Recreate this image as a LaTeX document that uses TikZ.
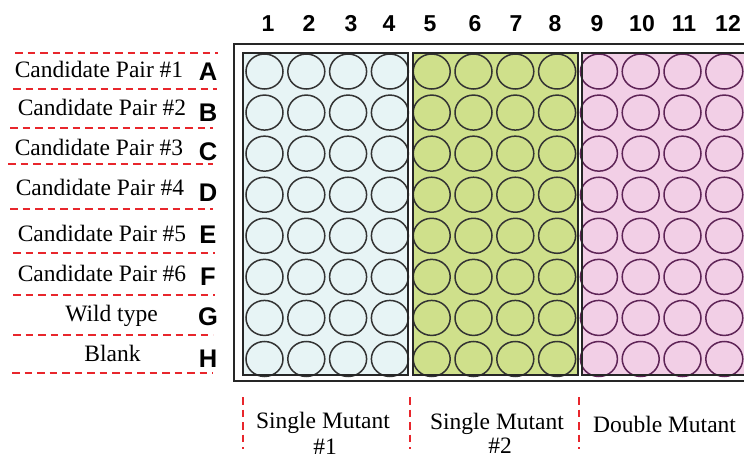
\documentclass[tikz,border=0pt]{standalone}
\usepackage{fontspec}
\setmainfont{Liberation Serif}
\newfontfamily\labelsans{Liberation Sans}
\definecolor{wellblue}{HTML}{E7F4F5}
\definecolor{wellgreen}{HTML}{CFE08B}
\definecolor{wellpink}{HTML}{F2CFE6}
\definecolor{pinkedge}{HTML}{5E2456}
\definecolor{guidered}{HTML}{E8262C}
\begin{document}
\begin{tikzpicture}[x=1pt,y=-1pt,
  serifText/.style={inner sep=0pt,anchor=base,font=\fontsize{23.5}{28}\selectfont},
  rowLetter/.style={inner sep=0pt,anchor=base,font=\labelsans\bfseries\fontsize{25.5}{28}\selectfont},
  colNumber/.style={inner sep=0pt,anchor=base,font=\labelsans\bfseries\fontsize{23}{26}\selectfont},
  guide/.style={draw=guidered,line width=1.8pt,dash pattern=on 7.5pt off 5pt},
  plateEdge/.style={draw=black!85,line width=1.8pt},
  blockEdge/.style={draw=black!85,line width=1.4pt},
  wellDark/.style={draw=black!80,line width=1.5pt},
  wellPurple/.style={draw=pinkedge,line width=1.5pt}]
\useasboundingbox (0,0) rectangle (744,459);
\clip (0,0) rectangle (744,459);

% plate outline
\draw[plateEdge] (234,44) rectangle (780,381);

% treatment blocks
\fill[wellblue]  (243,53) rectangle (408,375);
\fill[wellgreen] (413,53) rectangle (578,375);
\fill[wellpink]  (582,53) rectangle (780,375);

% wells: 12 columns x 8 rows
\foreach \r in {0,...,7}{
  \foreach \c in {0,...,7}{
    \draw[wellDark] (264.5+41.8*\c, 71.5+41.07*\r) ellipse [x radius=18.5pt, y radius=17.5pt];
  }
  \foreach \c in {8,...,11}{
    \draw[wellPurple] (264.5+41.8*\c, 71.5+41.07*\r) ellipse [x radius=18.5pt, y radius=17.5pt];
  }
}

\draw[blockEdge] (243,53) rectangle (408,375);
\draw[blockEdge] (413,53) rectangle (578,375);
\draw[blockEdge] (582,53) rectangle (780,375);

% column numbers
\foreach \n/\x in {1/268,2/309,3/351,4/389,5/430,6/475,7/516,8/555,9/597,10/642,11/684,12/728}{
  \node[colNumber] (col\n) at (\x,31) {\n};
}

% row letters
\foreach \l/\y in {A/80,B/121,C/160,D/201,E/243,F/285,G/325,H/367}{
  \node[rowLetter] (row\l) at (208,\y) {\l};
}

% horizontal separators between row labels
\foreach \y/\xa/\xb in {53/15/218,89/13/217,128/10/213,164/8/213,209/10/213,253/13/215,295/13/215,335/13/213,373/12/213}{
  \draw[guide] (\xa,\y) -- (\xb,\y);
}

% row descriptions
\node[serifText] (pair1) at (99,77.3)  {Candidate Pair \#1};
\node[serifText] (pair2) at (102,115)  {Candidate Pair \#2};
\node[serifText] (pair3) at (99,155)   {Candidate Pair \#3};
\node[serifText] (pair4) at (100,195)  {Candidate Pair \#4};
\node[serifText] (pair5) at (102,241.7){Candidate Pair \#5};
\node[serifText] (pair6) at (102,281.7){Candidate Pair \#6};
\node[serifText] (wild)  at (111.5,321.7){Wild type};
\node[serifText] (blank) at (112.5,361.7){Blank};

% vertical separators between block labels
\foreach \x in {243,410,579}{
  \draw[guide] (\x,397) -- (\x,449);
}

% block descriptions
\node[serifText] (single1a) at (323,428) {Single Mutant};
\node[serifText] (single1b) at (325,454) {\#1};
\node[serifText] (single2a) at (497,429) {Single Mutant};
\node[serifText] (single2b) at (500,453) {\#2};
\node[serifText] (double)   at (664.5,432) {Double Mutant};
\end{tikzpicture}
\end{document}
